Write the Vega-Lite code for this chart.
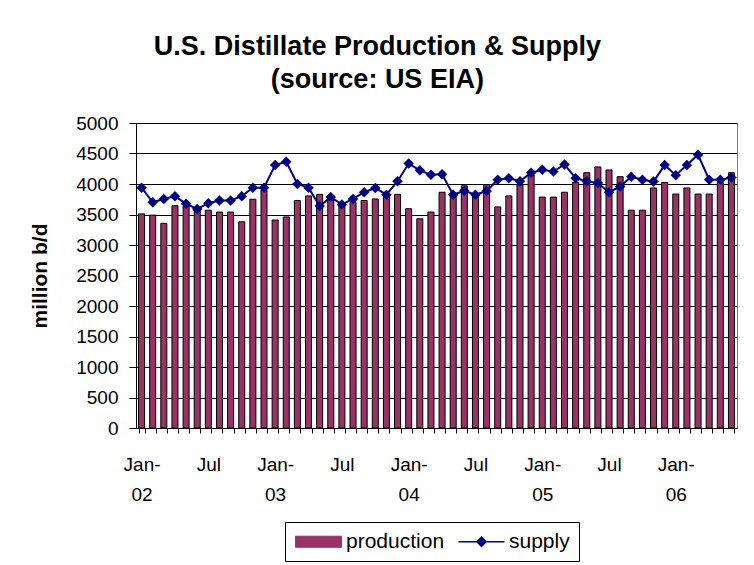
{
  "$schema": "https://vega.github.io/schema/vega-lite/v6.json",
  "width": 601,
  "height": 305,
  "autosize": {"type": "none"},
  "padding": {"left": 136, "top": 123, "right": 17, "bottom": 137},
  "background": "white",
  "config": {
    "font": "Liberation Sans",
    "view": {"stroke": "#808080", "strokeWidth": 1},
    "axisY": {
      "titleFontSize": 21,
      "titleFontWeight": "bold",
      "titleColor": "black",
      "titlePadding": 25,
      "labelFontSize": 19,
      "labelColor": "black",
      "labelPadding": 11,
      "tickSize": 7,
      "tickColor": "black",
      "domainColor": "black",
      "gridColor": "black",
      "gridOpacity": 1,
      "gridWidth": 1
    },
    "legend": {
      "orient": "none",
      "legendX": 149,
      "legendY": 399,
      "direction": "horizontal",
      "strokeColor": "black",
      "fillColor": "white",
      "padding": 9,
      "columnPadding": 10,
      "symbolSize": 2116,
      "labelFontSize": 21,
      "labelColor": "black",
      "labelOffset": 31
    }
  },
  "title": {
    "text": ["U.S. Distillate Production & Supply", "(source: US EIA)"],
    "fontSize": 27,
    "fontWeight": "bold",
    "font": "Liberation Sans",
    "color": "black",
    "anchor": "middle",
    "frame": "bounds",
    "lineHeight": 33,
    "offset": 20,
    "dx": -6
  },
  "data": {
    "values": [
      {"month": "2002-01", "production": 3510, "supply": 3940},
      {"month": "2002-02", "production": 3490, "supply": 3700},
      {"month": "2002-03", "production": 3355, "supply": 3755},
      {"month": "2002-04", "production": 3645, "supply": 3800},
      {"month": "2002-05", "production": 3640, "supply": 3675},
      {"month": "2002-06", "production": 3600, "supply": 3590},
      {"month": "2002-07", "production": 3570, "supply": 3685},
      {"month": "2002-08", "production": 3540, "supply": 3730},
      {"month": "2002-09", "production": 3540, "supply": 3730},
      {"month": "2002-10", "production": 3380, "supply": 3800},
      {"month": "2002-11", "production": 3750, "supply": 3940},
      {"month": "2002-12", "production": 3900, "supply": 3940},
      {"month": "2003-01", "production": 3410, "supply": 4310},
      {"month": "2003-02", "production": 3460, "supply": 4365},
      {"month": "2003-03", "production": 3730, "supply": 4000},
      {"month": "2003-04", "production": 3805, "supply": 3940},
      {"month": "2003-05", "production": 3830, "supply": 3640},
      {"month": "2003-06", "production": 3740, "supply": 3785},
      {"month": "2003-07", "production": 3650, "supply": 3665},
      {"month": "2003-08", "production": 3700, "supply": 3755},
      {"month": "2003-09", "production": 3730, "supply": 3865},
      {"month": "2003-10", "production": 3755, "supply": 3935},
      {"month": "2003-11", "production": 3790, "supply": 3825},
      {"month": "2003-12", "production": 3830, "supply": 4045},
      {"month": "2004-01", "production": 3595, "supply": 4335},
      {"month": "2004-02", "production": 3430, "supply": 4225},
      {"month": "2004-03", "production": 3540, "supply": 4150},
      {"month": "2004-04", "production": 3865, "supply": 4160},
      {"month": "2004-05", "production": 3850, "supply": 3825},
      {"month": "2004-06", "production": 3970, "supply": 3890},
      {"month": "2004-07", "production": 3830, "supply": 3825},
      {"month": "2004-08", "production": 3990, "supply": 3885},
      {"month": "2004-09", "production": 3625, "supply": 4070},
      {"month": "2004-10", "production": 3805, "supply": 4095},
      {"month": "2004-11", "production": 3985, "supply": 4045},
      {"month": "2004-12", "production": 4150, "supply": 4185},
      {"month": "2005-01", "production": 3785, "supply": 4235},
      {"month": "2005-02", "production": 3785, "supply": 4205},
      {"month": "2005-03", "production": 3865, "supply": 4320},
      {"month": "2005-04", "production": 4025, "supply": 4095},
      {"month": "2005-05", "production": 4185, "supply": 4045},
      {"month": "2005-06", "production": 4280, "supply": 4015},
      {"month": "2005-07", "production": 4230, "supply": 3865},
      {"month": "2005-08", "production": 4120, "supply": 3960},
      {"month": "2005-09", "production": 3570, "supply": 4120},
      {"month": "2005-10", "production": 3570, "supply": 4070},
      {"month": "2005-11", "production": 3935, "supply": 4040},
      {"month": "2005-12", "production": 4025, "supply": 4310},
      {"month": "2006-01", "production": 3835, "supply": 4145},
      {"month": "2006-02", "production": 3935, "supply": 4310},
      {"month": "2006-03", "production": 3835, "supply": 4480},
      {"month": "2006-04", "production": 3835, "supply": 4070},
      {"month": "2006-05", "production": 4025, "supply": 4070},
      {"month": "2006-06", "production": 4185, "supply": 4105}
    ]
  },
  "encoding": {
    "x": {
      "field": "month",
      "type": "ordinal",
      "sort": null,
      "scale": {"paddingInner": 0.46, "paddingOuter": 0.23},
      "axis": {
        "title": null,
        "labelAngle": 0,
        "labelExpr": "substring(datum.value,5,7)=='01' ? ['Jan-', substring(datum.value,2,4)] : (substring(datum.value,5,7)=='07' ? 'Jul' : '')",
        "labelFontSize": 19,
        "labelColor": "black",
        "labelPadding": 22,
        "labelLineHeight": 30,
        "labelOverlap": false,
        "labelFlush": false,
        "labelBound": false,
        "tickBand": "extent",
        "tickSize": 5,
        "tickColor": "black",
        "domainColor": "black",
        "grid": false
      }
    },
    "color": {
      "datum": "production",
      "type": "nominal",
      "scale": {"domain": ["production", "supply"], "range": ["#993366", "#000080"]},
      "legend": {
        "title": null,
        "encode": {
          "symbols": {
            "update": {
              "shape": {"signal": "datum.value == 'production' ? 'M-0.39,-0.24H1.61V0.24H-0.39Z' : 'M-0.39,0H1.61M0.61,-0.2L0.81,0L0.61,0.2L0.41,0Z'"},
              "fill": {"signal": "datum.value == 'production' ? '#993366' : '#000080'"},
              "stroke": {"signal": "datum.value == 'production' ? 'black' : '#000080'"},
              "strokeWidth": {"signal": "datum.value == 'production' ? 1 : 1.5"},
              "opacity": {"value": 1}
            }
          }
        }
      }
    }
  },
  "layer": [
    {
      "mark": {"type": "bar", "stroke": "black", "strokeWidth": 1},
      "encoding": {
        "y": {
          "field": "production",
          "type": "quantitative",
          "scale": {"domain": [0, 5000], "nice": false},
          "axis": {
            "title": "million b/d",
            "values": [0, 500, 1000, 1500, 2000, 2500, 3000, 3500, 4000, 4500, 5000],
            "format": "d"
          }
        }
      }
    },
    {
      "mark": {"type": "line", "strokeWidth": 2, "point": {"shape": "diamond", "size": 110, "filled": true, "opacity": 1}},
      "encoding": {
        "y": {
          "field": "supply",
          "type": "quantitative",
          "axis": {
            "title": "million b/d",
            "values": [0, 500, 1000, 1500, 2000, 2500, 3000, 3500, 4000, 4500, 5000],
            "format": "d"
          }
        },
        "color": {"datum": "supply", "type": "nominal"}
      }
    }
  ]
}
